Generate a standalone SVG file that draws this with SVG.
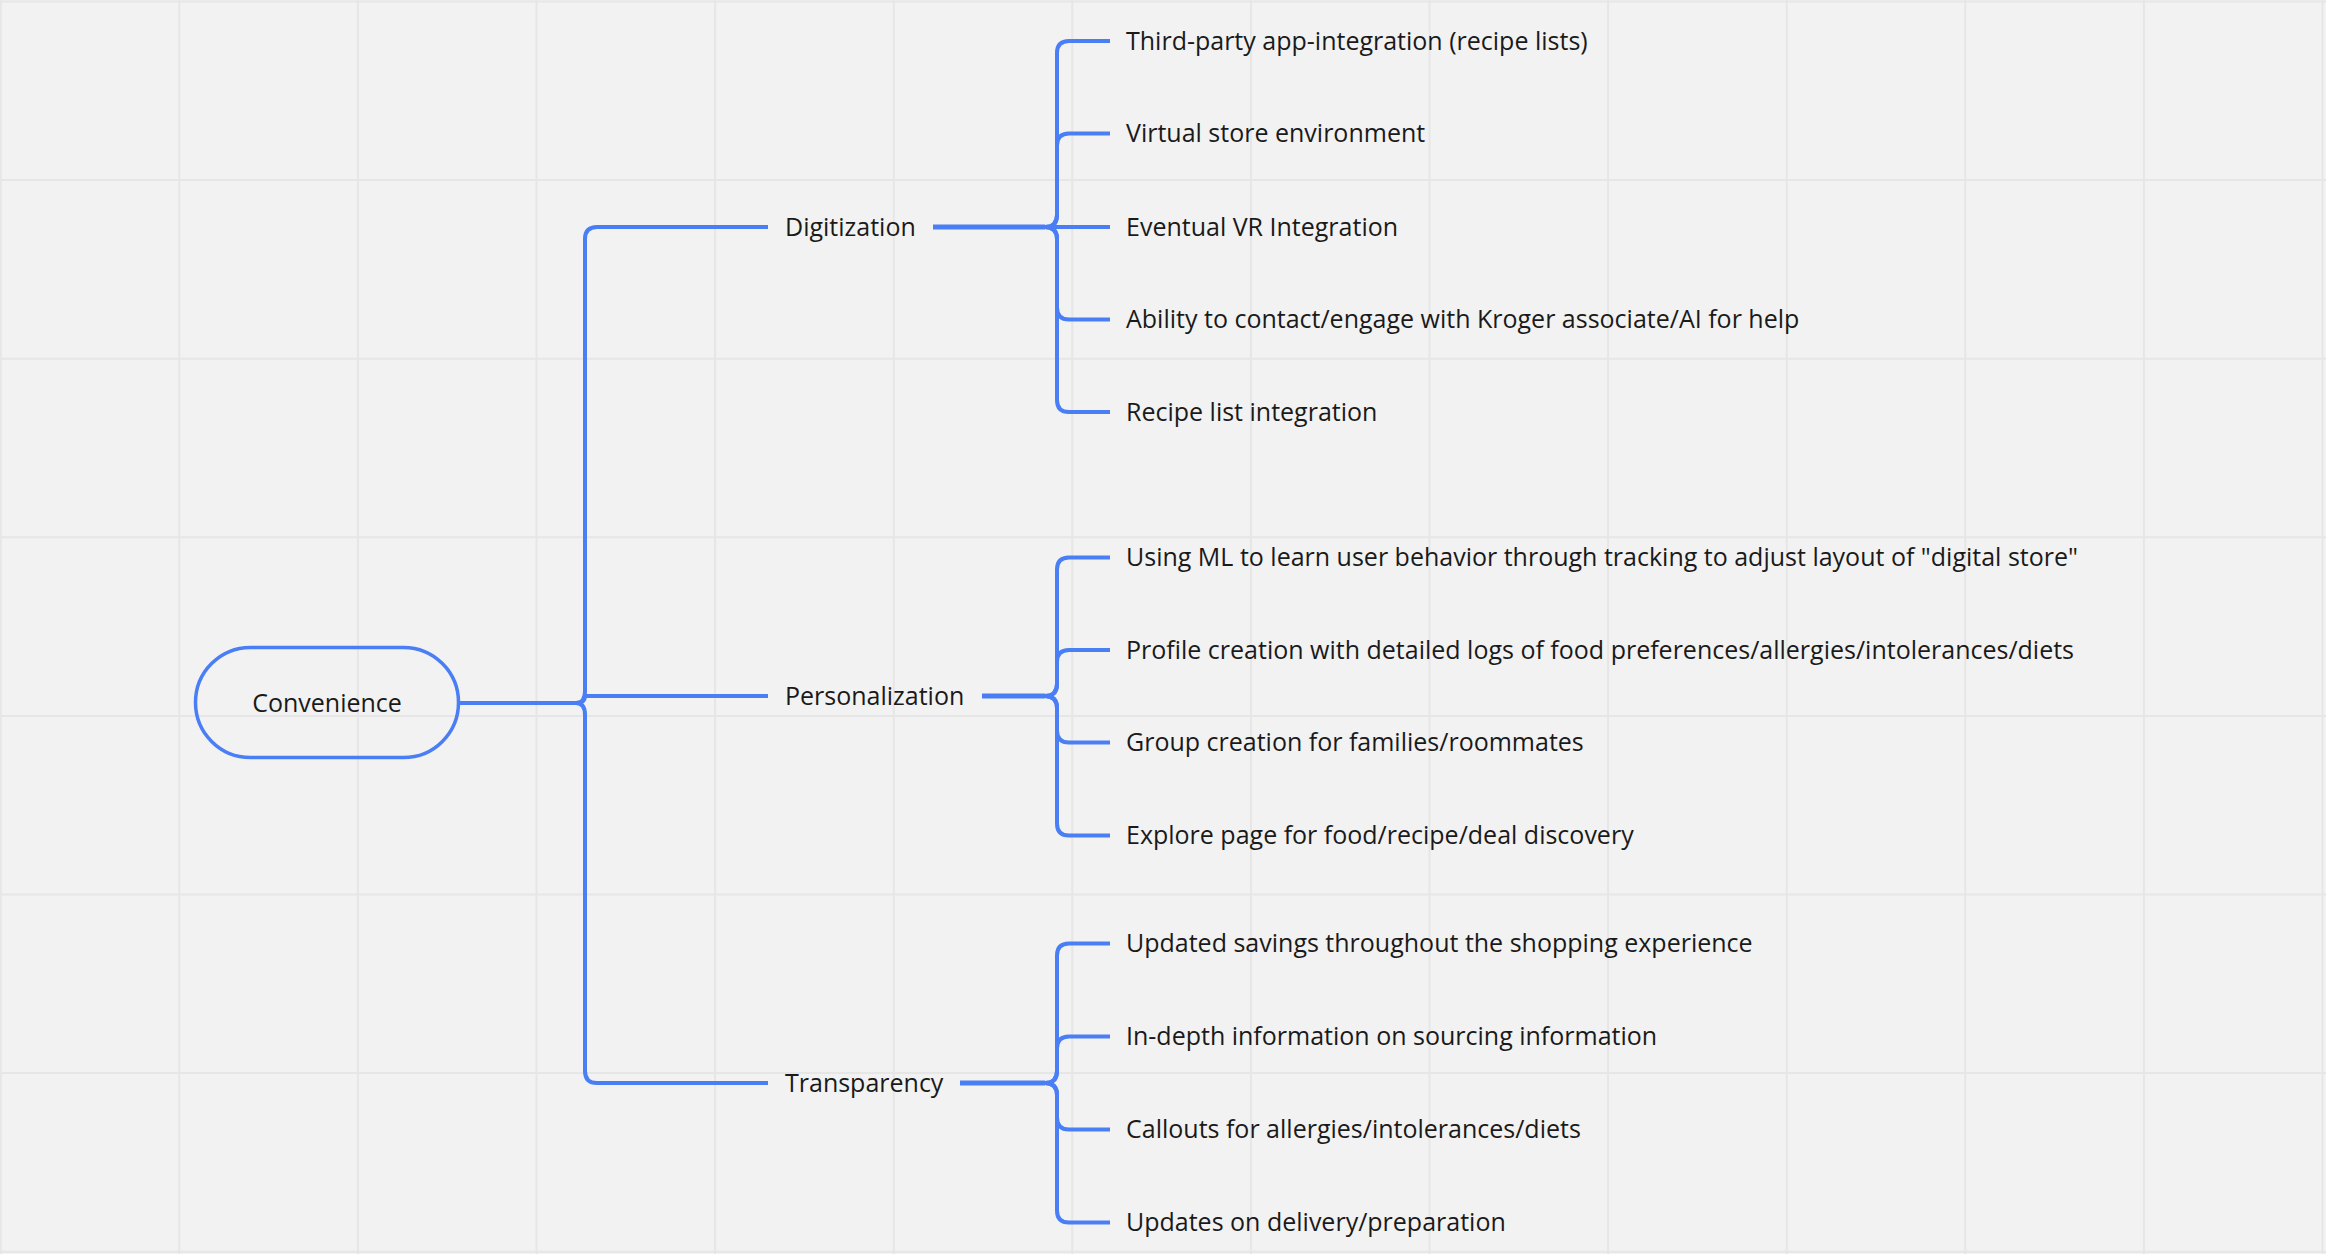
<svg xmlns="http://www.w3.org/2000/svg" width="2326" height="1254" viewBox="0 0 2326 1254">
<style>
.grid{stroke:#e6e6e6;stroke-width:2;fill:none}
.c{stroke:#4a7ef5;stroke-width:4;fill:none;stroke-linecap:butt;stroke-linejoin:round}
.c2{stroke:#4a7ef5;stroke-width:5;fill:none}
.t{font-family:"Open Sans","Noto Sans","Liberation Sans",sans-serif;font-size:25px;fill:#1a1a1a}
.pill{fill:none;stroke:#4a7ef5;stroke-width:3.5}
</style>
<rect width="2326" height="1254" fill="#f2f2f2"/>
<path class="grid" d="M0.7,0V1254M179.3,0V1254M357.9,0V1254M536.5,0V1254M715.1,0V1254M893.7,0V1254M1072.3,0V1254M1250.9,0V1254M1429.5,0V1254M1608.1,0V1254M1786.7,0V1254M1965.3,0V1254M2143.9,0V1254M2322.5,0V1254M0,1.5H2326M0,180.1H2326M0,358.7H2326M0,537.3H2326M0,715.9H2326M0,894.5H2326M0,1073.1H2326M0,1251.7H2326"/>
<g id="connectors">
<path class="c" d="M459,703 L576,703"/>
<path class="c" d="M576,703 Q585,703 585,691 L585,239 Q585,227 597,227 L768,227"/>
<path class="c" d="M576,703 Q585,703 585,696 L768,696"/>
<path class="c" d="M576,703 Q585,703 585,715 L585,1071 Q585,1083 597,1083 L768,1083"/>
<path class="c2" d="M933,227 L1045,227"/>
<path class="c2" d="M982,696 L1045,696"/>
<path class="c2" d="M960,1083 L1045,1083"/>
<path class="c" d="M1045,227 Q1057,227 1057,215 L1057,53 Q1057,41 1069,41 L1110,41"/>
<path class="c" d="M1045,227 Q1057,227 1057,215 L1057,145.5 Q1057,133.5 1069,133.5 L1110,133.5"/>
<path class="c" d="M1045,227 L1110,227"/>
<path class="c" d="M1045,227 Q1057,227 1057,239 L1057,307.5 Q1057,319.5 1069,319.5 L1110,319.5"/>
<path class="c" d="M1045,227 Q1057,227 1057,239 L1057,400 Q1057,412 1069,412 L1110,412"/>
<path class="c" d="M1045,696 Q1057,696 1057,684 L1057,569.5 Q1057,557.5 1069,557.5 L1110,557.5"/>
<path class="c" d="M1045,696 Q1057,696 1057,684 L1057,662 Q1057,650 1069,650 L1110,650"/>
<path class="c" d="M1045,696 Q1057,696 1057,708 L1057,730.5 Q1057,742.5 1069,742.5 L1110,742.5"/>
<path class="c" d="M1045,696 Q1057,696 1057,708 L1057,823.5 Q1057,835.5 1069,835.5 L1110,835.5"/>
<path class="c" d="M1045,1083 Q1057,1083 1057,1071 L1057,955.5 Q1057,943.5 1069,943.5 L1110,943.5"/>
<path class="c" d="M1045,1083 Q1057,1083 1057,1071 L1057,1048.5 Q1057,1036.5 1069,1036.5 L1110,1036.5"/>
<path class="c" d="M1045,1083 Q1057,1083 1057,1095 L1057,1117.5 Q1057,1129.5 1069,1129.5 L1110,1129.5"/>
<path class="c" d="M1045,1083 Q1057,1083 1057,1095 L1057,1210.5 Q1057,1222.5 1069,1222.5 L1110,1222.5"/>
</g>
<g id="convenience">
<rect class="pill" x="195.5" y="647.5" width="263" height="110" rx="55" ry="55"/>
<text class="t" x="327" y="712" text-anchor="middle">Convenience</text>
</g>
<g id="digitization"><text class="t" x="785" y="235.5">Digitization</text></g>
<g id="personalization"><text class="t" x="785" y="704.5">Personalization</text></g>
<g id="transparency"><text class="t" x="785" y="1091.5">Transparency</text></g>
<g id="d1"><text class="t" x="1126" y="49.5">Third-party app-integration (recipe lists)</text></g>
<g id="d2"><text class="t" x="1126" y="142">Virtual store environment</text></g>
<g id="d3"><text class="t" x="1126" y="235.5">Eventual VR Integration</text></g>
<g id="d4"><text class="t" x="1126" y="328">Ability to contact/engage with Kroger associate/AI for help</text></g>
<g id="d5"><text class="t" x="1126" y="420.5">Recipe list integration</text></g>
<g id="p1"><text class="t" x="1126" y="566">Using ML to learn user behavior through tracking to adjust layout of "digital store"</text></g>
<g id="p2"><text class="t" x="1126" y="658.5">Profile creation with detailed logs of food preferences/allergies/intolerances/diets</text></g>
<g id="p3"><text class="t" x="1126" y="751">Group creation for families/roommates</text></g>
<g id="p4"><text class="t" x="1126" y="844">Explore page for food/recipe/deal discovery</text></g>
<g id="t1"><text class="t" x="1126" y="952">Updated savings throughout the shopping experience</text></g>
<g id="t2"><text class="t" x="1126" y="1045">In-depth information on sourcing information</text></g>
<g id="t3"><text class="t" x="1126" y="1138">Callouts for allergies/intolerances/diets</text></g>
<g id="t4"><text class="t" x="1126" y="1231">Updates on delivery/preparation</text></g>
</svg>
